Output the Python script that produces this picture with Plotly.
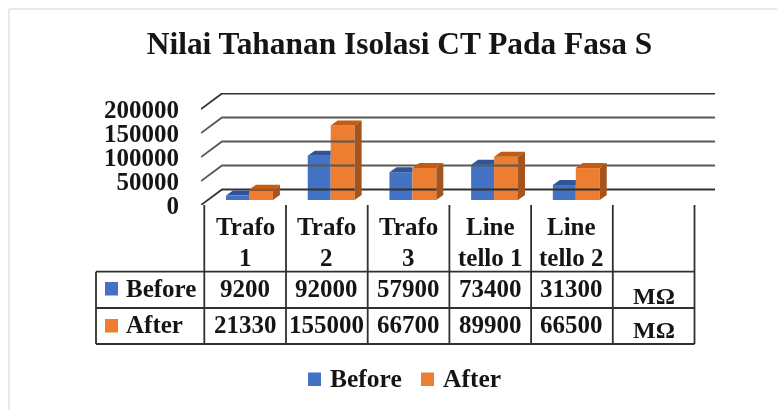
import plotly.graph_objects as go

W, H = 777, 410
FONT = "Liberation Serif"
INK = "#151515"

categories = ["Trafo<br>1", "Trafo<br>2", "Trafo<br>3", "Line<br>tello 1", "Line<br>tello 2"]
before = [9200, 92000, 57900, 73400, 31300]
after = [21330, 155000, 66700, 89900, 66500]
y_ticks = [0, 50000, 100000, 150000, 200000]
units = ["MΩ", "MΩ"]
blue, blue_top = "#4472c4", "#2f5597"
orange, orange_top, orange_side = "#ed7d31", "#c55a11", "#a5541e"

# pixel geometry of the plot frame
X0, X1, Y0, Y_TOP = 201, 715, 205, 93
PX_PER_CAT = 81.7
PX_PER_UNIT = 24 / 50000
CX0 = 245.15


def px_x(v):
    return (v - CX0) / PX_PER_CAT


def px_y(v):
    return v / PX_PER_UNIT


fig = go.Figure()
n = len(categories)
xs = list(range(n))

# back wall + floor diagonals
bdx, bdy = px_x(CX0 + 21), px_y(15.5)
xl, xr = px_x(X0), px_x(X1)
for t in y_ticks:
    fig.add_trace(go.Scatter(
        x=[xl, xl + bdx, xr], y=[t, t + bdy, t + bdy], mode="lines",
        line=dict(color="#333333" if t in (0, 200000) else "#585858", width=1.8),
        hoverinfo="skip", showlegend=False, cliponaxis=False))

# bars
base = px_y(5)
ddx, ddy = px_x(CX0 + 7), px_y(5)
for vals, name, x_a, x_b, c, ct, cs in [
    (before, "Before", -0.234, 0.047, blue, blue_top, None),
    (after, "After", 0.047, 0.34, orange, orange_top, orange_side),
]:
    fig.add_trace(go.Bar(x=xs, y=vals, base=[base] * n, offset=x_a, width=x_b - x_a,
                         marker=dict(color=c, line=dict(width=0)), name=name, showlegend=False))
    for i, v in enumerate(vals):
        top = base + v
        # the taller orange bar hides the blue bar's right face and the end of its top
        far_x = i + x_b + (ddx if cs else 0)
        fig.add_trace(go.Scatter(
            x=[i + x_a, i + x_b, far_x, i + x_a + ddx, i + x_a],
            y=[top, top, top + ddy, top + ddy, top],
            fill="toself", fillcolor=ct, mode="lines", line=dict(width=0),
            hoverinfo="skip", showlegend=False, cliponaxis=False))
        if cs:
            fig.add_trace(go.Scatter(
                x=[i + x_b, i + x_b + ddx, i + x_b + ddx, i + x_b, i + x_b],
                y=[base, base + ddy, top + ddy, top, base],
                fill="toself", fillcolor=cs, mode="lines", line=dict(width=0),
                hoverinfo="skip", showlegend=False, cliponaxis=False))


def X(p):
    return p / W


def Y(p):
    return 1 - p / H


shapes, annotations = [], []


def line(x0, y0, x1, y1):
    shapes.append(dict(type="line", xref="paper", yref="paper", x0=X(x0), y0=Y(y0), x1=X(x1), y1=Y(y1),
                       line=dict(color="#303030", width=1.8)))


def text(x, y, s, size=25, anchor="center"):
    annotations.append(dict(xref="paper", yref="paper", x=X(x), y=Y(y), text=s, showarrow=False,
                            xanchor=anchor, yanchor="middle", align="center",
                            font=dict(family=FONT, size=size, color=INK)))


# faint page frame
shapes.append(dict(type="line", xref="paper", yref="paper", x0=X(9), y0=Y(9), x1=1, y1=Y(9),
                   line=dict(color="#e9e9e9", width=2)))
shapes.append(dict(type="line", xref="paper", yref="paper", x0=X(9), y0=Y(9), x1=X(9), y1=0,
                   line=dict(color="#e9e9e9", width=2)))

# data table
cols = [204.3 + PX_PER_CAT * i for i in range(7)]
R0, R1, R2, R3, TL = 205, 271.7, 308, 344, 96
for c in cols:
    line(c, R0, c, R3)
line(TL, R1, cols[-1], R1)
line(TL, R2, cols[-1], R2)
line(TL, R3, cols[-1], R3)
line(TL, R1, TL, R3)


def b(s):
    return "<b>" + s + "</b>"


for i in range(n):
    cx = (cols[i] + cols[i + 1]) / 2
    parts = categories[i].split("<br>")
    text(cx, 226, b(parts[0]))
    text(cx, 257, b(parts[1]))
    text(cx, 288.5, b(str(before[i])))
    text(cx, 324.5, b(str(after[i])))
text((cols[5] + cols[6]) / 2, 296, b(units[0]), size=24)
text((cols[5] + cols[6]) / 2, 330, b(units[1]), size=24)


def swatch(x, y, c):
    shapes.append(dict(type="rect", xref="paper", yref="paper", x0=X(x), x1=X(x + 13), y0=Y(y + 13.5), y1=Y(y),
                       fillcolor=c, line=dict(width=0)))


swatch(105, 282, blue)
swatch(105, 319, orange)
text(124, 288.5, b("Before"), anchor="left")
text(124, 324.5, b("After"), anchor="left")

# legend
swatch(308, 372.5, blue)
swatch(421, 372.5, orange)
text(328, 378, b("Before"), anchor="left", size=25.5)
text(441, 378, b("After"), anchor="left", size=25.5)

fig.update_layout(
    width=W, height=H, autosize=False,
    margin=dict(l=0, r=0, t=0, b=0),
    paper_bgcolor="white", plot_bgcolor="rgba(0,0,0,0)",
    barmode="overlay", showlegend=False,
    title=dict(text="<b>Nilai Tahanan Isolasi CT Pada Fasa S</b>", x=399.5 / W, xanchor="center",
               y=1 - 43.5 / H, yanchor="middle", font=dict(family=FONT, size=31.4, color=INK)),
    xaxis=dict(domain=[X(X0), X(X1)], range=[xl, xr], visible=False, automargin=False),
    yaxis=dict(domain=[Y(Y0), Y(Y_TOP)], range=[0, (Y0 - Y_TOP) / PX_PER_UNIT],
               tickvals=y_ticks, ticktext=["<b>%d</b>" % t for t in y_ticks],
               tickfont=dict(family=FONT, size=25, color=INK), showgrid=False, zeroline=False,
               showline=False, ticks="", ticklabelstandoff=21, automargin=False),
    shapes=shapes, annotations=annotations,
)
fig.write_html("out.html", config={"displayModeBar": False},
               post_script="document.body.style.margin='0';document.documentElement.style.overflow='hidden';document.body.style.filter='blur(0.5px)';")
